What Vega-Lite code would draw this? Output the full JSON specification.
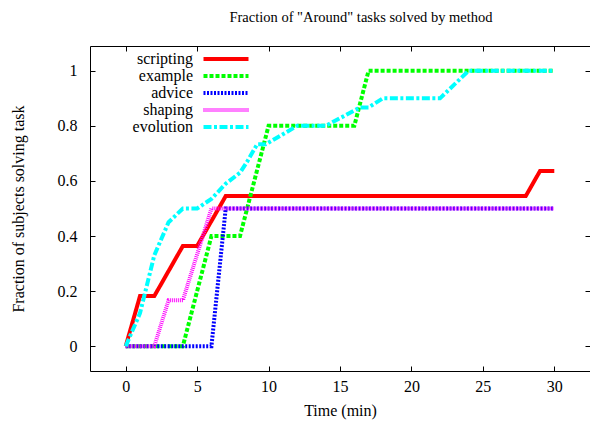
{
  "$schema": "https://vega.github.io/schema/vega-lite/v6.json",
  "width": 500,
  "height": 325,
  "autosize": {"type": "none"},
  "padding": {"left": 90, "top": 46, "right": 0, "bottom": 51},
  "background": "white",
  "title": {
    "text": "Fraction of \"Around\" tasks solved by method",
    "font": "Liberation Serif",
    "fontSize": 14.5,
    "fontWeight": "normal",
    "color": "black",
    "anchor": "middle",
    "frame": "group",
    "dx": 21,
    "offset": 20
  },
  "config": {
    "font": "Liberation Serif",
    "view": {"stroke": null},
    "axis": {
      "labelFont": "Liberation Serif",
      "labelFontSize": 16,
      "labelColor": "black",
      "titleFont": "Liberation Serif",
      "titleFontSize": 16,
      "titleFontWeight": "normal",
      "titleColor": "black",
      "domainColor": "black",
      "domainWidth": 1,
      "tickColor": "black",
      "tickWidth": 1,
      "tickSize": -5,
      "grid": false
    }
  },
  "data": {
    "values": [
      {"t": 0, "f": 0, "m": "scripting"},
      {"t": 1, "f": 0.182, "m": "scripting"},
      {"t": 2, "f": 0.182, "m": "scripting"},
      {"t": 4, "f": 0.364, "m": "scripting"},
      {"t": 5, "f": 0.364, "m": "scripting"},
      {"t": 7, "f": 0.545, "m": "scripting"},
      {"t": 28, "f": 0.545, "m": "scripting"},
      {"t": 29, "f": 0.636, "m": "scripting"},
      {"t": 30, "f": 0.636, "m": "scripting"},
      {"t": 0, "f": 0, "m": "example"},
      {"t": 4, "f": 0, "m": "example"},
      {"t": 6, "f": 0.4, "m": "example"},
      {"t": 8, "f": 0.4, "m": "example"},
      {"t": 10, "f": 0.8, "m": "example"},
      {"t": 16, "f": 0.8, "m": "example"},
      {"t": 17, "f": 1, "m": "example"},
      {"t": 30, "f": 1, "m": "example"},
      {"t": 0, "f": 0, "m": "advice"},
      {"t": 6, "f": 0, "m": "advice"},
      {"t": 7, "f": 0.5, "m": "advice"},
      {"t": 30, "f": 0.5, "m": "advice"},
      {"t": 0, "f": 0, "m": "shaping"},
      {"t": 2, "f": 0, "m": "shaping"},
      {"t": 3, "f": 0.167, "m": "shaping"},
      {"t": 4, "f": 0.167, "m": "shaping"},
      {"t": 6, "f": 0.5, "m": "shaping"},
      {"t": 30, "f": 0.5, "m": "shaping"},
      {"t": 0, "f": 0, "m": "evolution"},
      {"t": 1, "f": 0.12, "m": "evolution"},
      {"t": 2, "f": 0.33, "m": "evolution"},
      {"t": 3, "f": 0.45, "m": "evolution"},
      {"t": 4, "f": 0.5, "m": "evolution"},
      {"t": 5, "f": 0.5, "m": "evolution"},
      {"t": 6, "f": 0.535, "m": "evolution"},
      {"t": 7, "f": 0.59, "m": "evolution"},
      {"t": 8, "f": 0.63, "m": "evolution"},
      {"t": 8.5, "f": 0.67, "m": "evolution"},
      {"t": 9.2, "f": 0.733, "m": "evolution"},
      {"t": 9.8, "f": 0.733, "m": "evolution"},
      {"t": 12, "f": 0.8, "m": "evolution"},
      {"t": 14, "f": 0.8, "m": "evolution"},
      {"t": 16.4, "f": 0.867, "m": "evolution"},
      {"t": 17, "f": 0.867, "m": "evolution"},
      {"t": 18, "f": 0.9, "m": "evolution"},
      {"t": 22, "f": 0.9, "m": "evolution"},
      {"t": 24, "f": 1, "m": "evolution"},
      {"t": 30, "f": 1, "m": "evolution"}
    ]
  },
  "layer": [
    {
      "mark": {"type": "line", "strokeWidth": 4, "clip": true},
      "encoding": {
        "x": {
          "field": "t", "type": "quantitative",
          "scale": {"domain": [-2.5, 32.5], "nice": false, "zero": false},
          "axis": {"values": [0, 5, 10, 15, 20, 25, 30], "format": "d", "title": "Time (min)", "labelPadding": 12, "titleX": 250, "titleY": 39, "titleBaseline": "middle", "orient": "bottom"}
        },
        "y": {
          "field": "f", "type": "quantitative",
          "scale": {"domain": [-0.09, 1.09], "nice": false, "zero": false},
          "axis": {"values": [0, 0.2, 0.4, 0.6, 0.8, 1], "format": "~g", "title": "Fraction of subjects solving task", "labelPadding": 18, "titleX": -72, "titleY": 162.5, "titleAngle": -90, "titleBaseline": "middle", "titleAlign": "center", "orient": "left"}
        },
        "color": {
          "field": "m", "type": "nominal",
          "scale": {"domain": ["scripting", "example", "advice", "shaping", "evolution"], "range": ["#ff0000", "#00ff00", "#0000ff", "#ff00ff", "#00ffff"]},
          "legend": {
            "title": null,
            "orient": "none",
            "legendX": 128,
            "legendY": 5,
            "symbolType": "M-4.5,0H4.5",
            "symbolSize": 100,
            "symbolStrokeWidth": 4,
            "symbolFillColor": "transparent",
            "labelFont": "Liberation Serif",
            "labelFontSize": 16,
            "labelColor": "black",
            "labelAlign": "right",
            "labelOffset": -41,
            "rowPadding": 1
          }
        },
        "strokeDash": {
          "field": "m", "type": "nominal",
          "scale": {"domain": ["scripting", "example", "advice", "shaping", "evolution"], "range": [[1, 0], [4, 2], [2, 1.5], [1, 1], [8, 2.5, 3, 2.5]]},
          "legend": null
        },
        "order": {"field": "t", "type": "quantitative"}
      }
    },
    {
      "mark": {"type": "point", "opacity": 0},
      "encoding": {
        "x": {"field": "t", "type": "quantitative", "axis": {"orient": "top", "values": [0, 5, 10, 15, 20, 25, 30], "labels": false, "title": null}},
        "y": {"field": "f", "type": "quantitative", "axis": {"orient": "right", "values": [0, 0.2, 0.4, 0.6, 0.8, 1], "labels": false, "title": null}}
      }
    }
  ],
  "resolve": {"axis": {"x": "independent", "y": "independent"}}
}
